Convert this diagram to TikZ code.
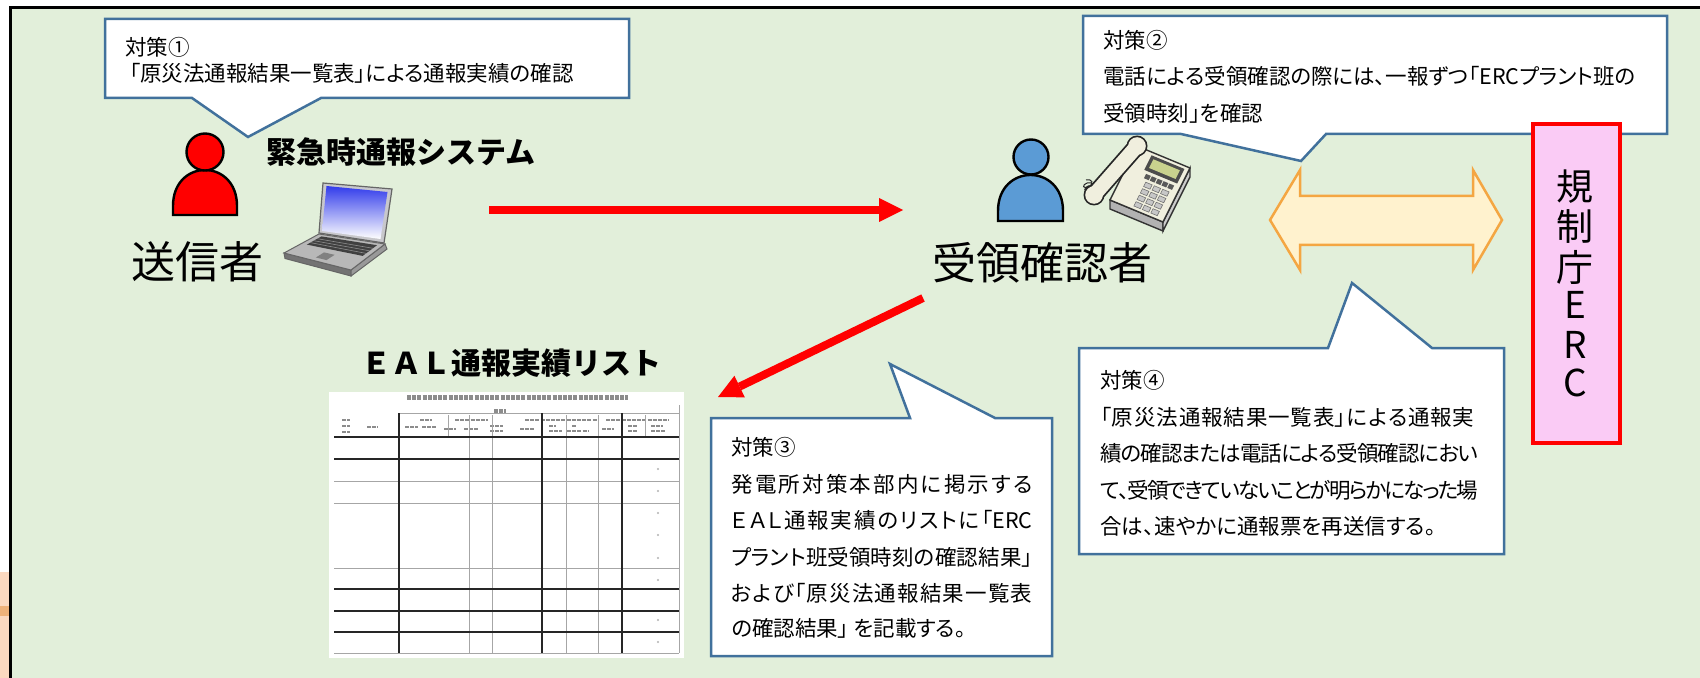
\documentclass[tikz,border=0pt]{standalone}
\usepackage{fontspec}
\usetikzlibrary{arrows.meta,decorations.pathmorphing}
\newfontfamily\jp{Noto Sans CJK JP}
\newfontfamily\jpp[RawFeature=+palt]{Noto Sans CJK JP}

\definecolor{bggreen}{RGB}{226,239,218}
\definecolor{calloutblue}{RGB}{65,113,156}
\definecolor{personblue}{RGB}{91,155,213}
\definecolor{orangeedge}{RGB}{244,166,66}
\definecolor{orangefill}{RGB}{255,242,206}
\definecolor{ercpink}{RGB}{250,203,245}
\definecolor{peach}{RGB}{251,217,192}
\definecolor{peachdark}{RGB}{238,178,122}
\definecolor{lidgray}{RGB}{200,200,204}
\definecolor{screenblue}{RGB}{50,60,235}
\definecolor{phonecream}{RGB}{240,239,222}
\definecolor{lcdgreen}{RGB}{201,210,142}

% spread (or squeeze) the characters of a line evenly over a given width
\makeatletter
\def\spreadgap{\hskip 0pt plus 1fill minus 1.5pt\relax}
\def\spreadtext#1{\spread@step#1\spread@end}
\def\spread@step#1#2\spread@end{#1\if\relax\detokenize{#2}\relax\else\spreadgap\spread@step#2\spread@end\fi}
\makeatother

\tikzset{
  callout/.style={fill=white, draw=calloutblue, line width=1.25pt, line join=miter},
  note/.style={font=\jpp\fontsize{10.75pt}{13pt}\selectfont, anchor=west, inner sep=0pt},
  biglabel/.style={font=\jp\fontsize{22pt}{26pt}\selectfont, inner sep=0pt},
  heading/.style={font=\jp\bfseries\fontsize{15pt}{18pt}\selectfont, inner sep=0pt},
  ercchar/.style={font=\jp\fontsize{18.5pt}{20pt}\selectfont, inner sep=0pt},
  redarrow/.style={draw=red, line width=4pt,
    -{Triangle[length=12pt,width=12pt,line width=0pt]}},
  person/.style={draw=black, line width=1.2pt},
  tabletext/.style={draw=black!45, line width=1.4pt, dash pattern=on 2pt off 0.6pt},
  gridthick/.style={draw=black!85, line width=0.9pt},
  gridthin/.style={draw=black!35, line width=0.4pt},
}

\begin{document}
\begin{tikzpicture}[x=0.5pt,y=-0.5pt]
\useasboundingbox (0,0) rectangle (1700,678);
\fill[white] (0,0) rectangle (1700,678);
% neighbouring artwork at the left margin
\fill[peach] (0,572) rectangle (10,678);
\fill[peachdark] (0,606) rectangle (10,616);
% panel
\fill[bggreen] (11,8) rectangle (1700,678);
\draw[black, line width=1.5pt] (10.75,678) -- (10.75,7.5) -- (1700,7.5);

% ---------- callouts ----------
\draw[callout] (105,19) -- (629,19) -- (629,98) -- (321,98) -- (248,137) -- (192,98) -- (105,98) -- cycle;
\draw[callout] (1083,16) -- (1667,16) -- (1667,134) -- (1326,134) -- (1301,161) -- (1181,134) -- (1083,134) -- cycle;
\draw[callout] (711,418) -- (910,418) -- (890,364) -- (995,418) -- (1052,418) -- (1052,656) -- (711,656) -- cycle;
\draw[callout] (1079,348) -- (1328,348) -- (1352,283) -- (1432,348) -- (1504,348) -- (1504,554) -- (1079,554) -- cycle;

\node[note] (c1a) at (125,47) {対策①};
\node[note] (c1b) at (129,73) {「原災法通報結果一覧表」による通報実績の確認};

\node[note] (c2a) at (1103,40) {対策②};
\node[note] (c2b) at (1103,76) {電話による受領確認の際には、一報ずつ「ERCプラント班の};
\node[note] (c2c) at (1103,113) {受領時刻」を確認};

\node[note] (c3a) at (731,447) {対策③};
\node[note] (c3b) at (731,484) {\hbox to 150.5pt{\spreadtext{発電所対策本部内に掲示する}}};
\node[note] (c3c) at (731,520) {\hbox to 150.5pt{\spreadtext{ＥＡＬ通報実績のリストに}\spreadgap「ERC}};
\node[note] (c3d) at (731,557) {\hbox to 150.5pt{\spreadtext{プラント班受領時刻の確認結果」}}};
\node[note] (c3e) at (731,593) {\hbox to 150.5pt{\spreadtext{および「原災法通報結果一覧表}}};
\node[note] (c3f) at (731,628) {の確認結果」 を記載する。};

\node[note] (c4a) at (1100,380) {対策④};
\node[note] (c4b) at (1100,417) {\hbox to 187pt{\spreadtext{「原災法通報結果一覧表」による通報実}}};
\node[note] (c4c) at (1100,453) {\hbox to 189pt{\spreadtext{績の確認または電話による受領確認におい}}};
\node[note] (c4d) at (1100,490) {\hbox to 189pt{\spreadtext{て、受領できていないことが明らかになった場}}};
\node[note] (c4e) at (1100,526) {合は、速やかに通報票を再送信する。};

% ---------- sender ----------
\draw[person, fill=red] (173,215) -- (173,206) .. controls (173,158) and (237,158) .. (237,206) -- (237,215) -- cycle;
\draw[person, fill=red] (205,152) circle[radius=18.5];
\node[biglabel] (sender) at (197.5,262) {送信者};
\node[heading] (system) at (401,152) {緊急時通報システム};

% laptop
\draw[line width=0.6pt, draw=black!60, fill=lidgray] (323,183) -- (392,189) -- (384,243) -- (319,233) -- cycle;
\shade[top color=screenblue, bottom color=white] (326.5,186) -- (387.5,192) -- (380.5,239) -- (322,231) -- cycle;
\draw[line width=0.5pt, draw=black!60, fill=black!55] (284,253) -- (351,270) -- (351,276) -- (285,258.5) -- cycle;
\draw[line width=0.5pt, draw=black!60, fill=black!40] (351,270) -- (385,244) -- (387,249) -- (351,276) -- cycle;
\draw[line width=0.5pt, draw=black!60, fill=black!28] (284,253) -- (319,234) -- (385,244) -- (351,270) -- cycle;
\fill[black!75] (306.8,244.6) -- (362.7,255.9) -- (377,245.2) -- (321.5,236.4) -- cycle;
\draw[black!45, line width=0.3pt] (310.3,242.6) -- (366.1,253.4)
  (313.8,240.7) -- (369.5,250.8) (317.3,238.7) -- (372.9,248.3);
\fill[black!50] (315.9,257.5) -- (326.5,260.1) -- (334.6,254.8) -- (324,252.4) -- cycle;

% ---------- receiver ----------
\draw[person, fill=personblue] (998,221) -- (998,211) .. controls (998,163) and (1063,163) .. (1063,211) -- (1063,221) -- cycle;
\draw[person, fill=personblue] (1031,157) circle[radius=17.5];
\node[biglabel] (receiver) at (1042.5,263) {受領確認者};

% telephone
\draw[line width=0.7pt, draw=black!80, fill=black!30] (1110,200) -- (1163,222) -- (1163,231) -- (1110,209) -- cycle;
\draw[line width=0.7pt, draw=black!80, fill=black!20] (1163,222) -- (1190,168) -- (1190,177) -- (1163,231) -- cycle;
\draw[line width=0.7pt, draw=black!80, fill=phonecream] (1110,200) -- (1163,222) -- (1190,168) -- (1137,146) -- cycle;
\begin{scope}[shift={(1110,200)}, x={(26.5pt,-11pt)}, y={(13.5pt,27pt)}]
  \fill[black!70] (0.3,0.68) -- (0.92,0.68) -- (0.92,0.95) -- (0.3,0.95) -- cycle;
  \fill[lcdgreen] (0.36,0.74) -- (0.86,0.74) -- (0.86,0.9) -- (0.36,0.9) -- cycle;
  \foreach \k in {0,...,4}
    \fill[black!65] (0.36+0.11*\k,0.55) -- (0.45+0.11*\k,0.55) -- (0.45+0.11*\k,0.63) -- (0.36+0.11*\k,0.63) -- cycle;
  \foreach \c in {0,1,2}
    \foreach \r in {0,1,2,3}
      \draw[line width=0.3pt, draw=black!55, fill=black!22]
        (0.42+0.16*\c,0.06+0.12*\r) -- (0.54+0.16*\c,0.06+0.12*\r) -- (0.54+0.16*\c,0.14+0.12*\r) -- (0.42+0.16*\c,0.14+0.12*\r) -- cycle;
\end{scope}
% handset and cord
\draw[decorate, decoration={coil, aspect=0.6, segment length=1.6pt, amplitude=2.4pt}, line width=0.5pt, black!85] (1086,180) -- (1096,204);
\fill[black!85] (1094,195) circle[radius=10.5] (1137,146) circle[radius=10.5];
\draw[black!85, line width=9pt, line cap=round] (1094,195) -- (1137,146);
\fill[phonecream] (1094,195) circle[radius=8.8] (1137,146) circle[radius=8.8];
\draw[phonecream, line width=7.2pt, line cap=round] (1094,195) -- (1137,146);

% ---------- EAL record list ----------
\node[heading] (eal) at (511,363) {ＥＡＬ通報実績リスト};
\fill[white] (329,392) rectangle (684,658);
\draw[tabletext, line width=2.2pt] (407,397.5) -- (628,397.5);
\draw[tabletext, line width=1.8pt] (494,411) -- (506,411);
\draw[tabletext] (342,420) -- (350,420) (342,426) -- (350,426) (342,432) -- (350,432)
  (367,427) -- (378,427)
  (420,420) -- (432,420) (405,427) -- (418,427) (422,427) -- (437,427)
  (455,420) -- (488,420) (444,429) -- (456,429) (464,429) -- (478,429) (490,426) -- (503,426) (490,431) -- (503,431)
  (525,420) -- (598,420) (520,429) -- (535,429) (549,426) -- (556,426) (549,431) -- (562,431) (572,426) -- (576,426) (567,431) -- (588,431)
  (606,420) -- (669,420) (602,429) -- (614,429) (628,426) -- (638,426) (628,431) -- (638,431) (651,426) -- (663,426) (651,431) -- (666,431);
\draw[gridthin] (398,413) -- (679,413) (679,405) -- (679,653);
\foreach \yy in {481,503,568,653} \draw[gridthin] (334,\yy) -- (679,\yy);
\foreach \xx in {469,492,566,598} \draw[gridthin] (\xx,415) -- (\xx,653);
\draw[gridthin] (448,415) -- (448,437) (645,415) -- (645,437);
\foreach \xx in {399,542,622} \draw[gridthick] (\xx,413) -- (\xx,653);
\foreach \yy in {437,459,589,611,632} \draw[gridthick] (334,\yy) -- (679,\yy);
\foreach \yy in {469,491,513,535,558,580,620,642} \fill[black!30] (658,\yy) circle[radius=1.2];

% ---------- arrows ----------
\coordinate (sendOut) at (489,210);
\coordinate (recvIn) at (903,210);
\draw[redarrow] (sendOut) -- (recvIn);
\coordinate (recvOut) at (923,298);
\coordinate (listIn) at (718,397);
\draw[redarrow] (recvOut) -- (listIn);

% two-way exchange with the regulator
\draw[draw=orangeedge, fill=orangefill, line width=1.25pt, line join=miter]
  (1270,220) -- (1300,170) -- (1300,196) -- (1473,196) -- (1473,170) -- (1502,220)
  -- (1473,270) -- (1473,245) -- (1300,245) -- (1300,270) -- cycle;

% ---------- regulator ERC ----------
\node[draw=red, line width=2pt, fill=ercpink, minimum width=43.5pt, minimum height=159.5pt, inner sep=0pt] (erc) at (1576.5,283.5) {};
\node[ercchar] (erc1) at (1575,187) {規};
\node[ercchar] (erc2) at (1575,226) {制};
\node[ercchar] (erc3) at (1575,267) {庁};
\node[ercchar] (erc4) at (1575,305) {E};
\node[ercchar] (erc5) at (1575,345) {R};
\node[ercchar] (erc6) at (1575,383) {C};
\end{tikzpicture}
\end{document}
